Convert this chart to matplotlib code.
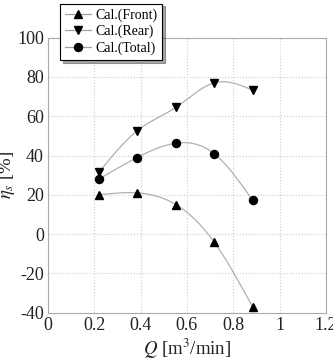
import numpy as np
import matplotlib
matplotlib.use("Agg")
import matplotlib.pyplot as plt

Q = [0.22, 0.385, 0.553, 0.717, 0.883]
front = [20, 21, 15, -4, -37]
rear = [31.5, 52.6, 64.6, 77, 73.3]
total = [28, 39, 46.3, 41, 17.3]

plt.rcParams['font.family'] = ['Liberation Serif', 'DejaVu Serif']
plt.rcParams['mathtext.fontset'] = 'stix'
plt.rcParams['axes.unicode_minus'] = False


def natural_spline(x, y, n=200):
    x = np.asarray(x, float); y = np.asarray(y, float)
    k = len(x); h = np.diff(x)
    A = np.zeros((k, k)); b = np.zeros(k)
    A[0, 0] = A[-1, -1] = 1
    for i in range(1, k - 1):
        A[i, i - 1] = h[i - 1]; A[i, i] = 2 * (h[i - 1] + h[i]); A[i, i + 1] = h[i]
        b[i] = 6 * ((y[i + 1] - y[i]) / h[i] - (y[i] - y[i - 1]) / h[i - 1])
    M = np.linalg.solve(A, b)
    xs = np.linspace(x[0], x[-1], n)
    idx = np.clip(np.searchsorted(x, xs) - 1, 0, k - 2)
    x0 = x[idx]; x1 = x[idx + 1]; hh = x1 - x0
    ys = (M[idx] * (x1 - xs) ** 3 / (6 * hh) + M[idx + 1] * (xs - x0) ** 3 / (6 * hh)
          + (y[idx] / hh - M[idx] * hh / 6) * (x1 - xs)
          + (y[idx + 1] / hh - M[idx + 1] * hh / 6) * (xs - x0))
    return xs, ys


fig = plt.figure(figsize=(3.33, 3.59), dpi=100)
ax = fig.add_axes([0.144, 0.129, 0.835, 0.766])

series = [(front, '^', 'Cal.(Front)'), (rear, 'v', 'Cal.(Rear)'), (total, 'o', 'Cal.(Total)')]
handles = []
for ys, m, lab in series:
    xs, yy = natural_spline(Q, ys)
    ax.plot(xs, yy, color='#b0b0b0', lw=0.9, zorder=2)
    ax.plot(Q, ys, linestyle='none', marker=m, color='black', ms=5.8, zorder=3)
    h, = ax.plot([], [], color='#a0a0a0', lw=0.9, marker=m, mfc='black', mec='black', ms=5.8, label=lab)
    handles.append(h)

ax.set_xlim(0, 1.2)
ax.set_ylim(-40, 100)
ax.set_xticks([0, 0.2, 0.4, 0.6, 0.8, 1.0, 1.2])
ax.set_xticklabels(['0', '0.2', '0.4', '0.6', '0.8', '1', '1.2'])
ax.set_yticks(range(-40, 101, 20))
ax.set_yticklabels([str(v) for v in range(-40, 101, 20)])
ax.tick_params(length=0, labelsize=13, pad=3, labelcolor='#222222')
ax.grid(True, color='#cccccc', linestyle=':', lw=0.8)
for s in ax.spines.values():
    s.set_color('#aaaaaa'); s.set_linewidth(0.8)

ax.set_xlabel(r'$Q$ [m$^3$/min]', fontsize=13.5, labelpad=2, color='#222222')
ax.set_ylabel(r'$\eta_s$ [%]', fontsize=13.5, labelpad=0, color='#222222')

leg = fig.legend(handles=handles, loc='upper left', bbox_to_anchor=(0.18, 0.99),
                 fontsize=10, frameon=True, fancybox=False, shadow=True,
                 handlelength=1.9, borderpad=0.35, labelspacing=0.22, handletextpad=0.3,
                 borderaxespad=0)
leg.get_frame().set_edgecolor('black')
leg.get_frame().set_linewidth(0.8)

fig.savefig('out.png', dpi=100)
